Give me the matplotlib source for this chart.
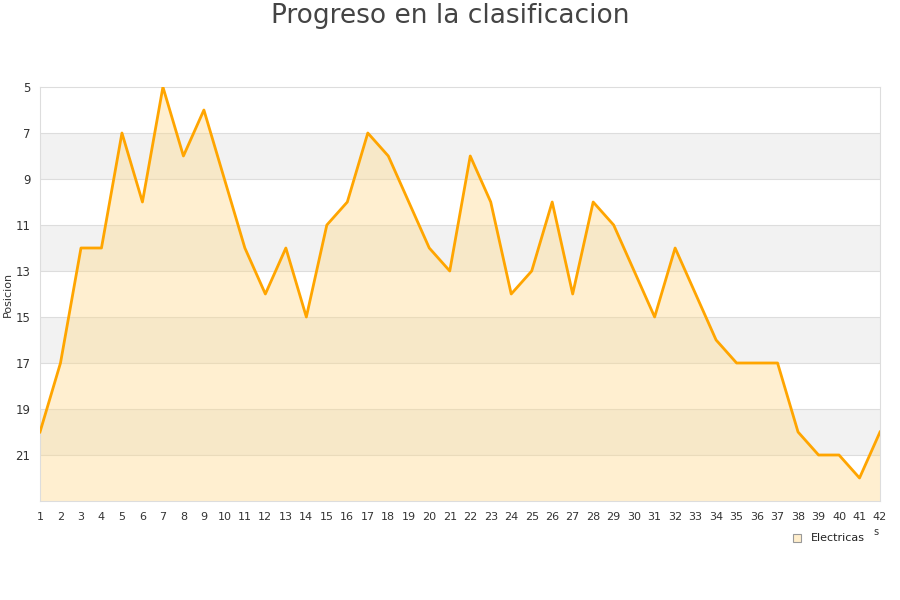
import matplotlib
matplotlib.use("Agg")
import matplotlib.pyplot as plt
from matplotlib.patches import Rectangle

jornadas = list(range(1, 43))
posicion = [20, 17, 12, 12, 7, 10, 5, 8, 6, 9, 12, 14, 12, 15, 11, 10, 7, 8, 10, 12,
            13, 8, 10, 14, 13, 10, 14, 10, 11, 13, 15, 12, 14, 16, 17, 17, 17, 20, 21, 21,
            22, 20]
yticks = [5, 7, 9, 11, 13, 15, 17, 19, 21]
title = "Progreso en la clasificacion"
ylabel = "Posicion"
series_name = "Electricas"

fig = plt.figure(figsize=(9, 6), dpi=100)
ax = fig.add_axes([40/900, 99/600, 840/900, 414/600])

ymin, ymax = 5, 23
# alternating bands
for i, lo in enumerate(range(ymin, ymax, 2)):
    color = "#ffffff" if i % 2 == 0 else "#f2f2f2"
    ax.axhspan(lo, lo + 2, color=color, zorder=0, lw=0)
for t in yticks[1:]:
    ax.axhline(t, color="#dddddd", lw=0.8, zorder=1)

ax.fill_between(jornadas, posicion, ymax, color="#ffd98a", alpha=0.4, lw=0, zorder=2)
ax.plot(jornadas, posicion, color="#ffa500", lw=2, zorder=3)

ax.set_xlim(1, 42)
ax.set_ylim(ymax, ymin)
ax.set_xticks(jornadas)
ax.set_xticklabels([str(j) for j in jornadas], fontsize=8, color="#333333")
ax.set_yticks(yticks)
ax.set_yticklabels([str(t) for t in yticks], fontsize=8.5, color="#333333")
ax.tick_params(length=0, pad=8)
ax.tick_params(axis="y", pad=7)
for s in ax.spines.values():
    s.set_color("#dddddd")
    s.set_linewidth(0.8)

ax.set_ylabel(ylabel, fontsize=8, color="#333333")
ax.yaxis.set_label_coords(-27/840, 0.5)
fig.text(0.5, 1 - 16/600, title, ha="center", va="center", fontsize=19, color="#444444")

# legend
fig.patches.append(Rectangle((793/900, 1 - 542/600), 8/900, 8/600, transform=fig.transFigure,
                             facecolor="#ffeecc", edgecolor="#999999", lw=0.8))
fig.text(811/900, 1 - 538/600, series_name, fontsize=8, color="#222222", va="center")
fig.text(876/900, 1 - 532/600, "s", fontsize=7, color="#333333", ha="center", va="center")

fig.savefig("out.png", dpi=100)
